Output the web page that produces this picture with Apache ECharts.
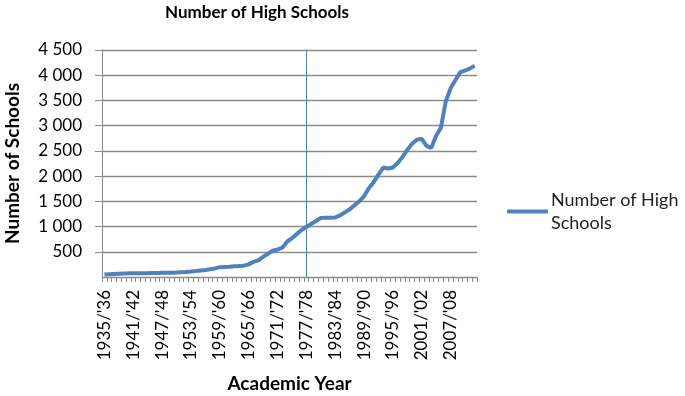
<!DOCTYPE html>
<html>
<head>
<meta charset="utf-8">
<script src="https://cdn.jsdelivr.net/npm/echarts@6/dist/echarts.min.js"></script>
<style>
  html, body { margin: 0; padding: 0; background: #fff; }
  #chart { width: 685px; height: 396px; }
</style>
</head>
<body>
<div id="chart"></div>
<script>
// academic years 1935/'36 .. 2012/'13
var startYears = [];
for (var y = 1935; y <= 2012; y++) startYears.push(y);
var years = startYears.map(function (y) {
    return y + "/'" + String(y + 1).slice(2);
});

var schools = [
    50, 55, 60, 65, 70, 72, 75, 75, 74, 75,
    78, 80, 82, 84, 86, 90, 95, 100, 108, 118,
    130, 140, 155, 170, 195, 200, 205, 212, 218, 225,
    250, 300, 330, 400, 460, 520, 545, 580, 700, 770,
    850, 930, 990, 1050, 1110, 1170, 1175, 1175, 1180, 1220,
    1280, 1340, 1420, 1500, 1600, 1760, 1880, 2030, 2170, 2150,
    2170, 2260, 2380, 2520, 2640, 2720, 2740, 2600, 2560, 2800,
    2960, 3480, 3740, 3900, 4060, 4090, 4130, 4190
];

var markerYear = "1977/'78";
var yTicks = {min: 0, max: 4500, step: 500};

var chart = echarts.init(document.getElementById('chart'));
var gray = '#8a8a8a';
var blue = '#4f81bd';
var font = 'Lato, "Open Sans", sans-serif';

var option = {
    animation: false,
    title: {
        text: 'Number of High Schools',
        left: 160,
        top: -1,
        textStyle: {fontFamily: font, fontSize: 17, fontWeight: 'bold', color: '#000'}
    },
    legend: {
        left: 502,
        top: 172,
        icon: 'roundRect',
        itemWidth: 41,
        itemHeight: 4,
        itemGap: 4,
        formatter: function () { return 'Number of High\nSchools'; },
        textStyle: {fontFamily: font, fontSize: 18, color: '#222', lineHeight: 23, padding: [23, 0, 0, -2]}
    },
    grid: {left: 102, right: 208, top: 50, bottom: 119, outerBoundsMode: 'none'},
    xAxis: {
        type: 'category',
        data: years,
        name: 'Academic Year',
        nameLocation: 'middle',
        nameGap: 97,
        nameTextStyle: {fontFamily: font, fontSize: 19, fontWeight: 'bold', color: '#000'},
        axisLine: {lineStyle: {color: gray, width: 1}},
        axisTick: {show: true, interval: 0, length: 5, lineStyle: {color: gray}},
        axisLabel: {
            interval: 5,
            rotate: 90,
            margin: 13,
            fontFamily: font,
            fontSize: 17,
            color: '#000'
        },
        splitLine: {show: false}
    },
    yAxis: {
        type: 'value',
        min: yTicks.min,
        max: yTicks.max,
        interval: yTicks.step,
        name: 'Number of Schools',
        nameLocation: 'middle',
        nameGap: 80,
        nameTextStyle: {fontFamily: font, fontSize: 19, fontWeight: 'bold', color: '#000'},
        axisLine: {show: true, lineStyle: {color: gray, width: 1}},
        axisTick: {show: true, length: 7, lineStyle: {color: gray}},
        axisLabel: {
            showMinLabel: false,
            margin: 20,
            fontFamily: font,
            fontSize: 17,
            color: '#000',
            formatter: function (v) {
                return String(v).replace(/\B(?=(\d{3})+(?!\d))/g, ' ');
            }
        },
        splitLine: {show: true, lineStyle: {color: gray, width: 1.3}}
    },
    series: [{
        name: 'Number of High Schools',
        type: 'line',
        data: schools,
        showSymbol: false,
        symbol: 'none',
        lineStyle: {color: blue, width: 4},
        itemStyle: {color: blue},
        markLine: {
            silent: true,
            symbol: ['none', 'none'],
            label: {show: false},
            lineStyle: {color: blue, width: 1, type: 'solid'},
            data: [[
                {coord: [markerYear, yTicks.max]},
                {coord: [markerYear, yTicks.min]}
            ]]
        }
    }]
};
chart.setOption(option);
</script>
</body>
</html>
